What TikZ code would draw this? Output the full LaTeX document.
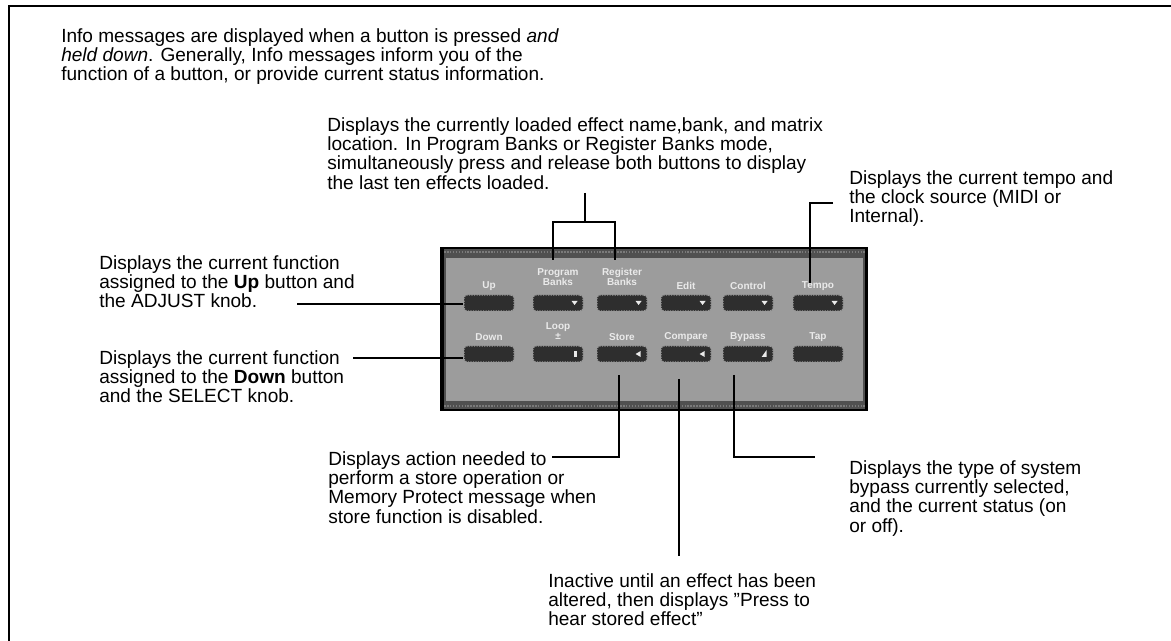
\documentclass[tikz,border=0pt]{standalone}
\usepackage{fontspec}
\setmainfont{Liberation Sans}
\usetikzlibrary{calc}
\definecolor{panelgray}{HTML}{9C9C9C}
\definecolor{banddark}{HTML}{505050}
\definecolor{bandtex}{HTML}{7A7A7A}
\definecolor{btnfill}{HTML}{2E2E2E}
\definecolor{btnedge}{HTML}{9A9A9A}
\definecolor{lblcol}{HTML}{EAEAEA}
\begin{document}
\begin{tikzpicture}[x=0.75pt,y=-0.75pt,
  txt/.style={anchor=north west, inner sep=0pt, align=left,
    font=\fontsize{14.3}{14.5}\selectfont},
  conn/.style={line width=1.5pt, line join=miter},
  btn/.style={draw=btnedge, densely dotted, line width=0.9pt, fill=btnfill,
    rounded corners=2.5pt, minimum width=37.5pt, minimum height=12pt, inner sep=0pt},
  blbl/.style={inner sep=0pt, align=center, text=lblcol,
    font=\fontsize{7.5}{7.6}\selectfont\bfseries},
  tri/.style={fill=lblcol}]
\useasboundingbox (0,0) rectangle (1171,641);

% outer frame
\draw[line width=2.2pt, line join=miter] (9,641) -- (9,6) -- (1171,6);

% panel
\fill[black] (440,247) rectangle (868,411);
\fill[banddark] (444,249) rectangle (865,409);
\draw[bandtex, densely dotted, line width=1.2pt] (444,252) -- (865,252);
\draw[bandtex, densely dotted, line width=1.2pt] (444,406) -- (865,406);
\fill[panelgray] (446,258) rectangle (863,401);

% buttons row 1
\node[btn] (bup)   at (489,303) {};
\node[btn] (bprog) at (558,303) {};
\node[btn] (breg)  at (622,303) {};
\node[btn] (bedit) at (686,303) {};
\node[btn] (bctl)  at (748,303) {};
\node[btn] (btmp)  at (818,303) {};
% buttons row 2
\node[btn] (bdown) at (489,354) {};
\node[btn] (bloop) at (558,354) {};
\node[btn] (bstore) at (622,354) {};
\node[btn] (bcmp)  at (686,354) {};
\node[btn] (bbyp)  at (748,354) {};
\node[btn] (btap)  at (818,354) {};

% small arrow marks on buttons
\foreach \b in {bprog,breg,bedit,bctl,btmp}{
  \fill[tri] ($(\b.east)+(-12,-2)$) -- ++(6,0) -- ++(-3,4) -- cycle;
}
\foreach \b in {bstore,bcmp}{
  \fill[tri] ($(\b.east)+(-7,-3)$) -- ++(0,6) -- ++(-5,-3) -- cycle;
}
\fill[tri] ($(bloop.east)+(-10,-3)$) -- ++(3,0) -- ++(0,6) -- ++(-3,0) -- cycle;
\fill[tri] ($(bbyp.east)+(-7,-4)$) -- ++(0,7) -- ++(-5,0) -- cycle;

% button labels
\node[blbl] (lup)   at (489,286) {Up};
\node[blbl] (lprog) at (558,277) {Program\\Banks};
\node[blbl] (lreg)  at (622,277) {Register\\Banks};
\node[blbl] (ledit) at (686,286) {Edit};
\node[blbl] (lctl)  at (748,286) {Control};
\node[blbl] (ltmp)  at (818,286) {Tempo};
\node[blbl] (ldown) at (489,337) {Down};
\node[blbl] (lloop) at (558,331) {Loop\\±};
\node[blbl] (lstore) at (622,337) {Store};
\node[blbl] (lcmp)  at (686,337) {Compare};
\node[blbl] (lbyp)  at (748,337) {Bypass};
\node[blbl] (ltap)  at (818,337) {Tap};

% text blocks
\node[txt] (tinfo) at (61,28) {Info messages are displayed when a button is pressed \textit{and}\\
\textit{held down}. Generally, Info messages inform you of the\\
function of a button, or provide current status information.};
\node[txt] (tload) at (327,117) {Displays the currently loaded effect name,bank, and matrix\\
location. In Program Banks or Register Banks mode,\\
simultaneously press and release both buttons to display\\
the last ten effects loaded.};
\node[txt] (ttempo) at (849,170) {Displays the current tempo and\\
the clock source (MIDI or\\
Internal).};
\node[txt] (tup) at (99,255) {Displays the current function\\
assigned to the \textbf{Up} button and\\
the ADJUST knob.};
\node[txt] (tdown) at (99,350) {Displays the current function\\
assigned to the \textbf{Down} button\\
and the SELECT knob.};
\node[txt] (tstore) at (328,451) {Displays action needed to\\
perform a store operation or\\
Memory Protect message when\\
store function is disabled.};
\node[txt] (tbyp) at (849,460) {Displays the type of system\\
bypass currently selected,\\
and the current status (on\\
or off).};
\node[txt] (tcmp) at (548,573) {Inactive until an effect has been\\
altered, then displays \symbol{34}Press to\\
hear stored effect\symbol{34}};

% connector end points
\coordinate (cup) at (297,304);
\coordinate (cdown) at (353,358);
\coordinate (cbtop) at (585,193);
\coordinate (cbl) at (553,222);
\coordinate (cbr) at (615,222);
\coordinate (cbld) at (553,260);
\coordinate (cbrd) at (615,260);
\coordinate (ctmpa) at (833,203);
\coordinate (ctmpb) at (810,283);
\coordinate (cst) at (552,457);
\coordinate (cstb) at (619,375);
\coordinate (ccmpt) at (679,379);
\coordinate (ccmpb) at (679,556);
\coordinate (cbypt) at (734,375);
\coordinate (cbypr) at (815,457);

% connectors
\draw[conn] (cup) -- (cup -| bup.west);
\draw[conn] (cdown) -- (cdown -| bdown.west);
\draw[conn] (cbtop) -- (cbtop |- cbl);
\draw[conn] (cbld) -- (cbl) -- (cbr) -- (cbrd);
\draw[conn] (ctmpa) -- (ctmpa -| ctmpb) -- (ctmpb);
\draw[conn] (cst) -- (cst -| cstb) -- (cstb);
\draw[conn] (ccmpt) -- (ccmpb);
\draw[conn] (cbypt) -- (cbypt |- cbypr) -- (cbypr);
\end{tikzpicture}
\end{document}
